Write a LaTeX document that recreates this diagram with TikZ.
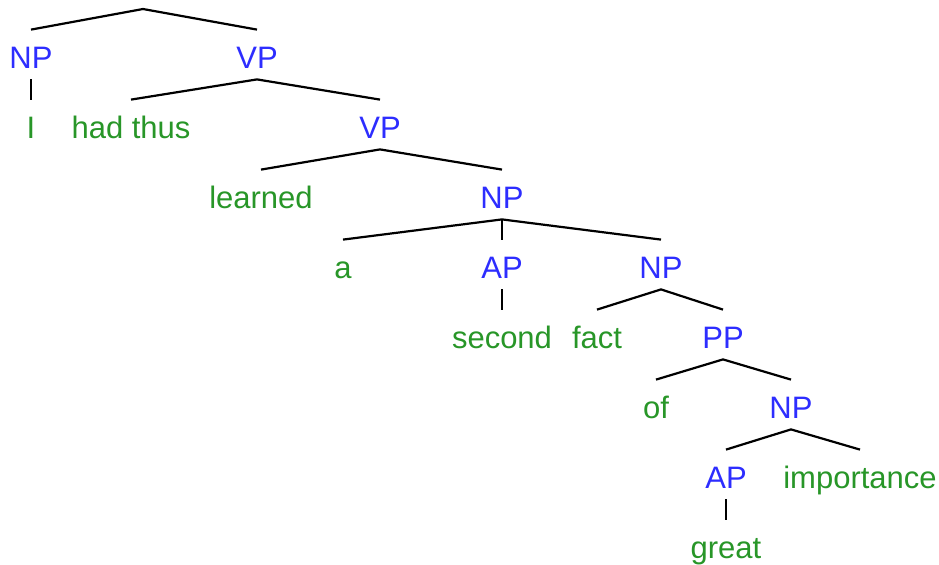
\documentclass[tikz,border=0pt]{standalone}
\usepackage{fontspec}
\setmainfont{Liberation Sans}
\definecolor{catblue}{RGB}{45,45,255}
\definecolor{wordgreen}{RGB}{40,150,40}
\tikzset{
  lbl/.style={anchor=base, inner xsep=0pt, inner ysep=5.5pt, text height=13.5pt, text depth=0pt, font=\fontsize{15.5}{18}\selectfont},
  cat/.style={lbl, text=catblue},
  word/.style={lbl, text=wordgreen},
  branch/.style={line width=1.1pt}
}
\begin{document}
\begin{tikzpicture}[x=0.5pt,y=-0.5pt]
\useasboundingbox (0,0) rectangle (939,564);
\coordinate (s) at (143,9);
\node [cat] (np1) at (31,68) {NP};
\node [cat] (vp1) at (257,68) {VP};
\node [word] (i) at (31,138) {I};
\node [word] (hadthus) at (131,138) {had thus};
\node [cat] (vp2) at (380,138) {VP};
\node [word] (learned) at (261,208) {learned};
\node [cat] (np2) at (502,208) {NP};
\node [word] (a) at (343,278) {a};
\node [cat] (ap1) at (502,278) {AP};
\node [cat] (np3) at (661,278) {NP};
\node [word] (second) at (502,348) {second};
\node [word] (fact) at (597,348) {fact};
\node [cat] (pp) at (723,348) {PP};
\node [word] (of) at (656,418) {of};
\node [cat] (np4) at (791,418) {NP};
\node [cat] (ap2) at (726,488) {AP};
\node [word] (importance) at (860,488) {importance};
\node [word] (great) at (726,558) {great};
\draw [branch] (np1.north) -- (s) -- (vp1.north);
\draw [branch] (np1.south) -- (i.north);
\draw [branch] (hadthus.north) -- (vp1.south) -- (vp2.north);
\draw [branch] (learned.north) -- (vp2.south) -- (np2.north);
\draw [branch] (a.north) -- (np2.south) -- (np3.north);
\draw [branch] (np2.south) -- (ap1.north);
\draw [branch] (ap1.south) -- (second.north);
\draw [branch] (fact.north) -- (np3.south) -- (pp.north);
\draw [branch] (of.north) -- (pp.south) -- (np4.north);
\draw [branch] (ap2.north) -- (np4.south) -- (importance.north);
\draw [branch] (ap2.south) -- (great.north);
\end{tikzpicture}
\end{document}
